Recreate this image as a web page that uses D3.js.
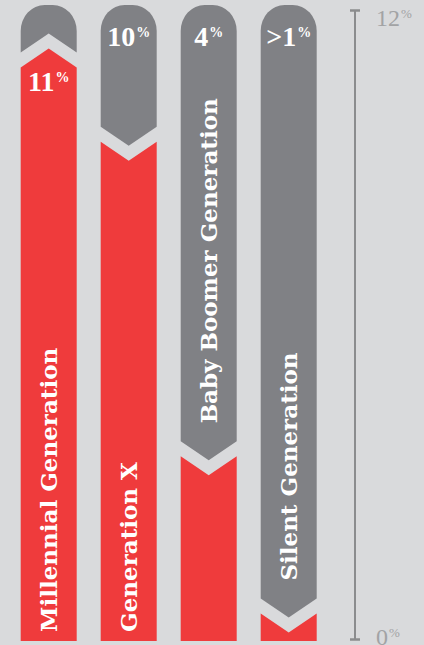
<!DOCTYPE html>
<html>
<head>
<meta charset="utf-8">
<script src="https://cdn.jsdelivr.net/npm/d3@7"></script>
<style>
  html, body { margin: 0; padding: 0; background: #d9dadc; }
  svg { display: block; }
</style>
</head>
<body>
<div id="chart"></div>
<script>
// Share of each generation (percent); grey cap = rest of the 12% scale
const categories = ["Millennial Generation", "Generation X", "Baby Boomer Generation", "Silent Generation"];
const values = [11, 10, 4, 1];
const valueLabels = ["11", "10", "4", ">1"];
const trend = ["up", "down", "down", "down"];
const axisTicks = [0, 12];
const axisTickLabels = ["0", "12"];

const W = 424, H = 645;
const RED = "#ef3b3c", GREY = "#808185", BG = "#d9dadc";
const SERIF = "'Liberation Serif', 'DejaVu Serif', serif";
const WIDE_SERIF = "'DejaVu Serif', serif";

const svg = d3.select("#chart").append("svg")
  .attr("width", W).attr("height", H);
svg.append("rect").attr("width", W).attr("height", H).attr("fill", BG);

const x = d3.scaleBand().domain(categories).range([20.7, 316.7]).paddingInner(0.3).paddingOuter(0);
const y = d3.scaleLinear().domain([0, 12]).range([639, 10]);

const bw = x.bandwidth();
const topY = y(12) - 5;      // top of rounded grey cap
const baseY = y(0) + 2;      // bottom of the columns
const gap = 15;              // vertical gap between grey and red pieces
const depth = 19;            // chevron depth
const rx = 24, ry = 26;      // rounded cap radii

const rows = categories.map((c, i) => {
  const v = y(values[i]);
  const up = trend[i] === "up";
  const greySide = up ? v - 10 : v + 12;
  const redSide = greySide + gap;
  return { c, i, up, greySide, redSide, x0: x(c), x1: x(c) + bw, xc: x(c) + bw / 2 };
});

const col = svg.selectAll("g.col").data(rows).join("g").attr("class", "col");

// grey cap: rounded top, chevron bottom
col.append("path")
  .attr("fill", GREY)
  .attr("d", d => {
    const tip = d.up ? d.greySide - depth : d.greySide + depth;
    return `M${d.x0},${d.greySide}` +
      `L${d.x0},${topY + ry}` +
      `A${rx},${ry} 0 0 1 ${d.x0 + rx},${topY}` +
      `L${d.x1 - rx},${topY}` +
      `A${rx},${ry} 0 0 1 ${d.x1},${topY + ry}` +
      `L${d.x1},${d.greySide}` +
      `L${d.xc},${tip}Z`;
  });

// red value column with matching chevron top
col.append("path")
  .attr("fill", RED)
  .attr("d", d => {
    const tip = d.up ? d.redSide - depth : d.redSide + depth;
    return `M${d.x0},${baseY}L${d.x0},${d.redSide}L${d.xc},${tip}L${d.x1},${d.redSide}L${d.x1},${baseY}Z`;
  });

// rotated category names
col.each(function(d) {
  const g = d3.select(this);
  const t = g.append("text")
    .attr("fill", "#ffffff")
    .attr("font-family", WIDE_SERIF)
    .attr("font-weight", "bold")
    .attr("font-size", 23)
    .attr("dy", "0.36em")
    .text(d.c);
  const len = t.node().getComputedTextLength();
  const redStart = baseY - 9;
  const redRoom = redStart - (d.up ? d.redSide : d.redSide + depth) - 20;
  const start = len < redRoom ? redStart : d.greySide - 18;
  t.attr("transform", `translate(${d.xc},${start}) rotate(-90)`);
});

// value labels with raised percent sign
col.each(function(d, i) {
  const g = d3.select(this);
  const inGrey = (d.greySide - topY) > 60;
  const baseline = inGrey ? topY + 41 : d.redSide + 24;
  const t = g.append("text")
    .attr("fill", "#ffffff")
    .attr("font-family", SERIF)
    .attr("font-weight", "bold")
    .attr("font-size", 28)
    .attr("text-anchor", "middle")
    .attr("x", d.xc)
    .attr("y", baseline);
  t.append("tspan").text(valueLabels[i]);
  t.append("tspan").attr("font-size", 14).attr("dx", 1).attr("dy", -9).text("%");
});

// scale axis on the right
const axisX = 355;
const axis = d3.axisRight(y).tickValues(axisTicks).tickSize(0).tickPadding(21)
  .tickFormat((d, i) => axisTickLabels[i]);
const ag = svg.append("g").attr("transform", `translate(${axisX},0)`).call(axis);
ag.select(".domain").attr("d", `M0,${y(0)}V${y(12)}`)
  .attr("stroke", "#8b8c8e").attr("stroke-width", 2);
ag.selectAll(".tick line").attr("x1", -5).attr("x2", 5)
  .attr("stroke", "#8b8c8e").attr("stroke-width", 2.5);
ag.selectAll(".tick text")
  .attr("fill", "#a2a3a5")
  .attr("font-family", SERIF)
  .attr("font-size", 24)
  .attr("dy", null)
  .attr("y", d => d === 12 ? 15 : 5)
  .each(function() {
    d3.select(this).append("tspan").attr("font-size", 13).attr("dx", 1).attr("dy", -8).text("%");
  });
</script>
</body>
</html>
